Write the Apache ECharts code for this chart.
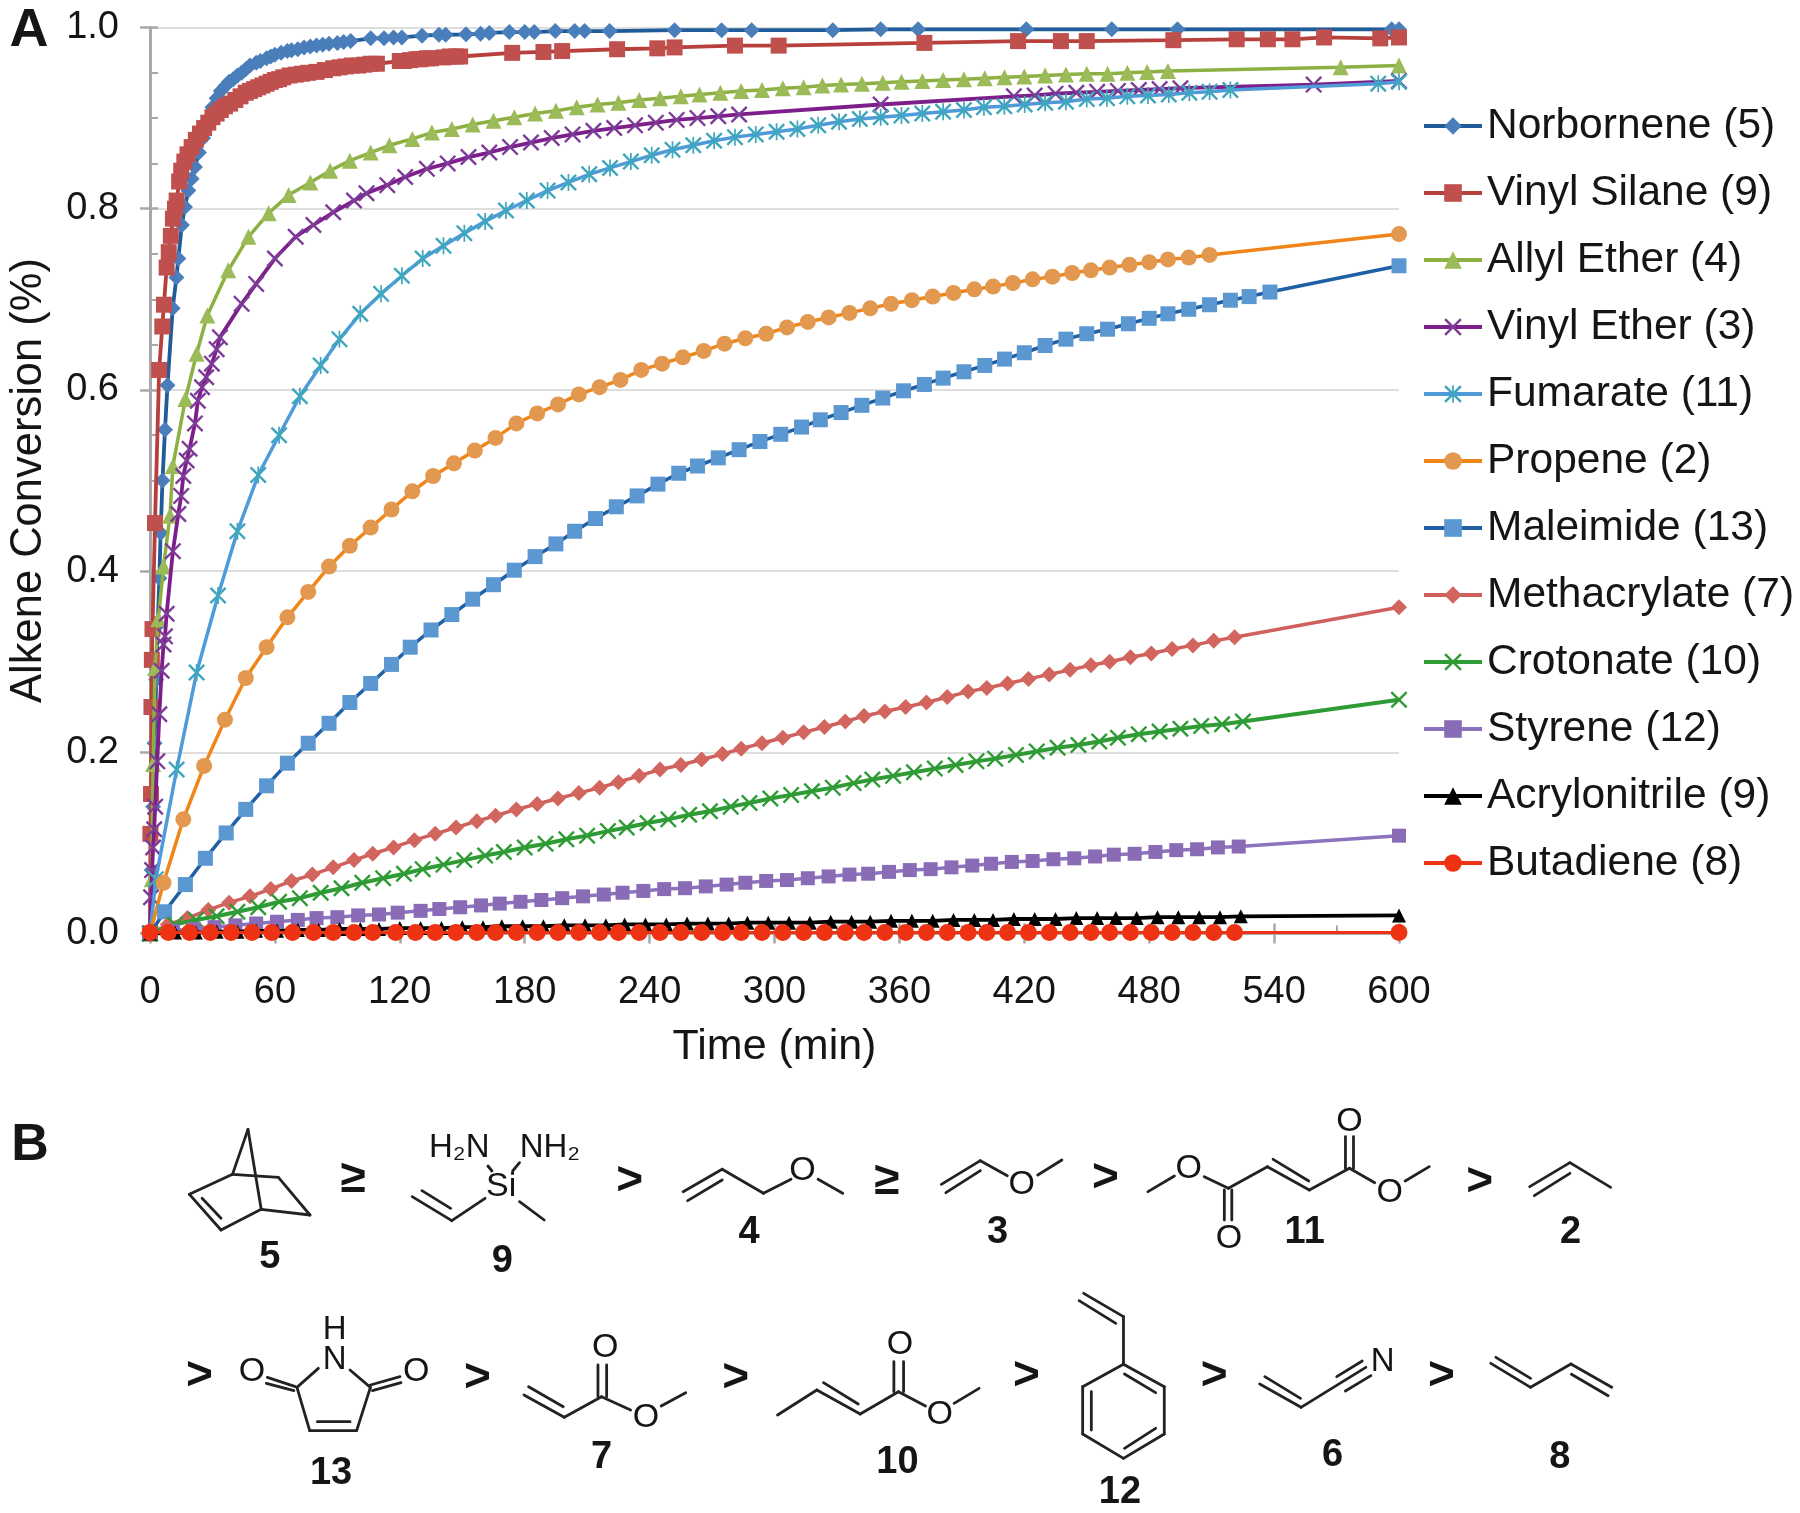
<!DOCTYPE html>
<html><head><meta charset="utf-8">
<script src="https://cdn.jsdelivr.net/npm/echarts@6/dist/echarts.min.js"></script>
<style>html,body{margin:0;padding:0;background:#fff}#c{width:1800px;height:1513px;filter:blur(0.5px)}</style>
</head><body><div id="c"></div>
<script>
// [time (min), conversion] pairs
const norbornene=[[0,0],[.8,.07],[1.5,.14],[2.2,.21],[3,.28],[3.7,.34],[4.5,.392],[5.1,.442],[6,.5],[7.2,.556],[8.4,.605],[10.9,.69],[12.7,.724],[13.6,.745],[15.3,.782],[16.8,.802],[18.4,.82],[20,.833],[21.6,.846],[23.5,.862],[25.5,.878],[27.5,.895],[30,.912],[32,.922],[34,.93],[36,.935],[38,.94],[40,.943],[42,.947],[44,.95],[46,.954],[48,.958],[51,.961],[53,.963],[56,.966],[58,.968],[60,.97],[63,.972],[66,.974],[68,.975],[71,.976],[74,.978],[77,.979],[80,.98],[83,.981],[86,.982],[90,.983],[93,.984],[96.4,.985],[106,.988],[112.4,.988],[117,.989],[121,.989],[130.7,.991],[138.8,.992],[142,.992],[151.8,.9925],[158.8,.993],[163,.994],[172.6,.995],[180,.995],[184.6,.995],[194.7,.996],[204,.996],[208.8,.996],[220.8,.996],[252,.997],[274.6,.997],[289,.997],[328,.997],[351,.998],[369,.998],[421,.998],[462,.998],[493.6,.998],[596.5,.998],[600,.998]];
const vinylSilane=[[0,0],[.2,.11],[.5,.154],[.7,.25],[.9,.302],[1.2,.336],[2.4,.453],[4.4,.622],[5.9,.67],[6.7,.694],[8,.735],[9,.752],[10,.77],[11,.789],[12,.8],[12.8,.809],[14,.83],[15,.842],[16.5,.852],[18,.86],[20,.868],[22,.876],[24,.883],[26,.889],[28,.895],[30,.901],[32,.905],[34,.909],[36,.913],[38.5,.916],[41,.92],[43.5,.924],[46,.928],[48,.93],[50,.932],[52,.934],[54,.936],[56,.938],[58,.94],[60,.942],[62,.943],[64,.945],[67,.947],[70,.948],[73,.949],[76,.95],[80,.951],[84,.953],[88,.955],[91,.956],[94,.957],[97,.958],[100,.958],[103,.959],[106,.96],[109,.96],[120,.963],[122,.963],[125,.964],[128,.965],[130,.965],[133,.966],[135,.966],[141,.967],[144,.968],[147,.968],[149,.968],[174,.972],[189,.973],[198,.974],[224.4,.976],[243.7,.977],[252,.978],[281,.98],[302,.98],[372,.983],[417,.985],[437.6,.985],[450,.985],[491.6,.986],[522,.987],[537,.987],[548.8,.987],[564,.989],[591,.988],[600,.989]];
const allylEther=[[0,0],[.8,.06],[1.5,.187],[2.4,.293],[4,.347],[6.5,.405],[9.6,.461],[11,.516],[17,.59],[22.4,.64],[27.5,.682],[37.6,.732],[47.3,.769],[57,.795],[66.6,.815],[77,.829],[86.5,.842],[96,.853],[106,.862],[115,.87],[126,.877],[135.4,.884],[145,.888],[155,.893],[165,.897],[175,.901],[185,.905],[195,.908],[205,.912],[215,.915],[225,.917],[235,.92],[245,.922],[255,.924],[264,.926],[274,.928],[284,.93],[294,.931],[304,.933],[314,.934],[323,.936],[332,.937],[342,.938],[352,.939],[361,.94],[371,.941],[381,.942],[391,.943],[401,.944],[410.5,.945],[420,.946],[430,.947],[440,.948],[450,.949],[460,.949],[469.5,.95],[479,.951],[489,.952],[572,.956],[600,.958]];
const vinylEther=[[0,0],[.5,.04],[1,.07],[1.5,.095],[2,.115],[2.5,.14],[3.5,.19],[4.5,.242],[5.6,.29],[6.5,.319],[7.2,.328],[8,.353],[11,.422],[13.6,.463],[15,.483],[16,.505],[17.6,.522],[19,.535],[21.6,.563],[23,.588],[25,.603],[27,.614],[29.7,.629],[32,.645],[33.6,.658],[44,.695],[51,.717],[60,.745],[70,.769],[78.5,.782],[88,.796],[98,.809],[104,.817],[114,.826],[122.6,.835],[133,.844],[143,.85],[153,.857],[163,.862],[173,.868],[183,.873],[193,.878],[203,.882],[213,.886],[223,.889],[233,.892],[243,.895],[253,.898],[263,.9],[273,.902],[283,.904],[351,.915],[415,.924],[425,.925],[435,.927],[445,.928],[455,.929],[465,.93],[475,.931],[485,.932],[495,.933],[559,.937],[600,.941]];
const fumarate=[[0,0],[2.8,.06],[12.8,.181],[22.4,.288],[32.7,.373],[42,.444],[52,.506],[62,.55],[72,.593],[82,.627],[91,.656],[101,.684],[111,.706],[121,.726],[131,.745],[141,.759],[151,.773],[161,.786],[171,.798],[181,.809],[191,.82],[201,.829],[211,.838],[221,.845],[231,.852],[241,.859],[251,.865],[261,.87],[271,.875],[281,.879],[291,.882],[301,.885],[311,.888],[321,.892],[331,.896],[341,.899],[351,.901],[361,.903],[371,.905],[381,.907],[391,.909],[400.6,.912],[410.4,.913],[420.2,.915],[430,.917],[440,.918],[450,.921],[459.7,.922],[469.5,.924],[479.4,.925],[489.4,.926],[499.3,.928],[509,.929],[519,.931],[590,.938],[600,.94]];
const propene=[[0,0],[6.5,.056],[16,.126],[26,.185],[36,.236],[46,.282],[56,.316],[66,.349],[76,.377],[86,.405],[96,.428],[106,.448],[116,.468],[126,.488],[136,.505],[146,.519],[156,.533],[166,.547],[176,.563],[186,.574],[196,.584],[206,.595],[216,.603],[226,.611],[236,.622],[246,.629],[256,.636],[266,.643],[276,.651],[286,.657],[296,.662],[306,.669],[316,.675],[326,.68],[336,.685],[346,.69],[356,.695],[366,.699],[376,.703],[386,.707],[396,.711],[405,.714],[414.5,.718],[424,.722],[433.5,.725],[443,.729],[452,.732],[461,.735],[470.5,.738],[480,.741],[489,.744],[499,.746],[509,.749],[600,.772]];
const maleimide=[[0,0],[7,.024],[17,.054],[26.6,.083],[36.6,.111],[46,.137],[56,.163],[66,.188],[76,.21],[86,.232],[96,.255],[106,.276],[116,.297],[125,.316],[135,.335],[145,.352],[155,.369],[165,.385],[175,.401],[185,.416],[195,.43],[204,.444],[214,.458],[224,.471],[234,.483],[244,.496],[254,.508],[263,.516],[273,.525],[283,.534],[293,.543],[303,.551],[313,.559],[322,.567],[332,.575],[342,.583],[352,.591],[362,.599],[372,.606],[381,.613],[391,.62],[401,.627],[410.5,.634],[420,.641],[430,.649],[440,.656],[450,.662],[460,.667],[470,.673],[480,.679],[489,.684],[499,.689],[509,.694],[519,.699],[528,.703],[538,.708],[600,.737]];
const methacrylate=[[0,0],[8.6,.01],[18,.017],[28,.026],[38,.034],[48,.041],[58,.049],[68,.058],[78,.065],[88,.073],[98,.081],[107,.088],[117,.095],[127,.103],[137,.11],[147,.117],[157,.124],[166,.13],[176,.137],[186,.143],[196,.149],[206,.155],[216,.161],[225,.167],[235,.174],[245,.181],[255,.186],[265,.192],[275,.198],[284,.204],[294,.21],[304,.216],[314,.222],[324,.228],[334,.234],[343,.24],[353,.245],[363,.25],[373,.255],[383,.261],[393,.267],[402,.271],[412,.276],[422,.281],[432,.286],[442,.291],[452,.296],[461,.3],[471,.305],[481,.309],[491,.314],[501,.318],[511,.323],[521,.327],[600,.36]];
const crotonate=[[0,0],[12,.01],[22,.015],[32,.019],[42,.024],[52,.029],[62,.035],[72,.039],[82,.045],[92,.05],[102,.056],[112,.061],[122,.066],[131,.071],[141,.076],[151,.081],[161,.086],[170,.09],[180,.095],[190,.099],[200,.104],[210,.108],[220,.113],[229,.117],[239,.122],[249,.126],[259,.131],[269,.135],[279,.14],[288,.144],[298,.149],[308,.153],[318,.157],[328,.161],[338,.166],[347,.17],[357,.174],[367,.178],[377,.182],[387,.186],[397,.19],[406,.193],[416,.197],[426,.201],[436,.205],[446,.208],[456,.212],[465,.216],[475,.22],[485,.223],[495,.226],[505,.229],[515,.231],[525,.234],[600,.258]];
const styrene=[[0,0],[11,.003],[21,.005],[31,.007],[41,.009],[51,.011],[61,.013],[71,.015],[80,.017],[90,.018],[100,.02],[110,.021],[119,.023],[130,.025],[139,.027],[149,.029],[159,.031],[168,.033],[178,.035],[188,.037],[198,.039],[208,.041],[218,.043],[227,.045],[237,.047],[247,.049],[257,.05],[267,.052],[277,.054],[286,.056],[296,.058],[306,.059],[316,.061],[326,.063],[336,.065],[345,.066],[355,.068],[365,.07],[375,.071],[385,.073],[395,.075],[404,.077],[414,.079],[424,.08],[434,.082],[444,.083],[454,.085],[463,.087],[473,.088],[483,.09],[493,.092],[503,.093],[513,.095],[523,.096],[600,.108]];
const acrylonitrile=[[0,0],[12,.001],[22,.001],[32,.002],[42,.002],[51,.003],[61,.003],[71,.004],[81,.004],[91,.005],[101,.005],[110,.005],[120,.006],[130,.006],[140,.006],[150,.007],[160,.007],[169,.008],[179,.008],[189,.008],[199,.009],[209,.009],[219,.009],[228,.01],[238,.01],[248,.01],[258,.011],[268,.011],[278,.011],[287,.012],[297,.012],[307,.012],[317,.012],[327,.013],[337,.013],[346,.013],[356,.014],[366,.014],[376,.014],[386,.015],[396,.015],[405,.015],[415,.016],[425,.016],[435,.016],[445,.017],[455,.017],[464,.017],[474,.017],[484,.018],[494,.018],[504,.018],[514,.018],[524,.019],[600,.02]];
const butadiene=[[0,.001],[8.8,.001],[19,.001],[29,.001],[39,.001],[49,.001],[58.5,.001],[68.5,.001],[78.5,.001],[88,.001],[98,.001],[107,.001],[118,.001],[127.5,.001],[137,.001],[147,.001],[157,.001],[166,.001],[176,.001],[186,.001],[196,.001],[206,.001],[216,.001],[225,.001],[235,.001],[245,.001],[255,.001],[265,.001],[275,.001],[284,.001],[294,.001],[304,.001],[314,.001],[324,.001],[334,.001],[343,.001],[353,.001],[363,.001],[373,.001],[383,.001],[393,.001],[402,.001],[412,.001],[422,.001],[432,.001],[442,.001],[452,.001],[461,.001],[471,.001],[481,.001],[491,.001],[501,.001],[511,.001],[521,.001],[600,.001]];

const X_TICK='path://M0 10L10 0L50 40L90 0L100 10L60 50L100 90L90 100L50 60L10 100L0 90L40 50Z';
const STAR=X_TICK+'M45 0H55V100H45Z';
const FONT='"Liberation Sans", Arial, sans-serif';
const INK='#151515';
const GRAY='#a8a8a8';

const seriesSpec=[
 ['Norbornene (5)',norbornene,'diamond',16,'#1f5c99','#4a7ebb',3.8],
 ['Vinyl Silane (9)',vinylSilane,'rect',16,'#b8403c','#c0504d',3.8],
 ['Allyl Ether (4)',allylEther,'triangle',16,'#8db042','#9bbb59',3.5],
 ['Vinyl Ether (3)',vinylEther,X_TICK,17,'#7d1f8a','#7d3c98',3.8],
 ['Fumarate (11)',fumarate,STAR,17,'#4f9bd8','#3ea6bd',3.5],
 ['Propene (2)',propene,'circle',16,'#f0851a','#e2994f',3.5],
 ['Maleimide (13)',maleimide,'rect',15,'#1f5fa6','#5b97d1',3.5],
 ['Methacrylate (7)',methacrylate,'diamond',16,'#d0605c','#d2665f',3.5],
 ['Crotonate (10)',crotonate,X_TICK,17,'#2e9b35','#2e9b35',4],
 ['Styrene (12)',styrene,'rect',14,'#8d73bd','#8a6cb6',3.5],
 ['Acrylonitrile (9)',acrylonitrile,'triangle',14,'#000000','#000000',3.8],
 ['Butadiene (8)',butadiene,'circle',17,'#ee3314','#ee3314',3]
];

// Panel B structures: bonds and labels in crop coordinates
const molecules=[
 {o:[0,1080],s:[1.742,3],
  bonds:[[432,148,405,283],[432,148,455,388],[405,283,485,292],[485,292,540,405],[540,405,455,388],[405,283,330,343],[330,343,385,450],[385,450,455,388],[352,355,385,415],
   [850,258,857,273],[905,248,893,273],[905,365,948,420],[845,355,787,422],[787,422,718,350],[785,385,735,332],
   [1190,335,1258,268],[1198,362,1258,300],[1258,268,1330,340],[1330,340,1378,298],[1425,298,1468,340]],
  labels:[['H₂N',800,205,33],['NH₂',958,205,33],['Si',873,320,34],['O',1398,272,34]],
  nums:[['5',470,525],['9',875,535],['4',1305,450]],
  signs:[['≥',615,290],['>',1097,295],['≥',1545,295]]},
 {o:[900,1080],s:[1.742,3],
  bonds:[[72,313,140,242],[80,338,140,272],[140,242,187,287],[240,285,282,240],
   [432,335,478,288],[530,290,572,325],[565,330,565,420],[578,330,578,420],[572,325,640,260],[640,260,713,330],[650,238,712,303],[713,330,783,265],[776,265,776,170],[790,265,790,170],[783,265,827,308],[880,303,922,260],
   [1097,320,1167,248],[1105,347,1167,280],[1167,248,1238,322]],
  labels:[['O',212,315,34],['O',503,265,34],['O',573,475,34],['O',783,125,34],['O',853,338,34]],
  nums:[['3',170,450],['11',705,450],['2',1168,450]],
  signs:[['>',358,285],['>',1010,297]]},
 {o:[150,1280],s:[1.96,3],
  bonds:[[330,265,288,322],[392,270,432,322],[230,292,285,320],[228,310,282,332],[490,290,432,315],[492,308,436,332],[288,322,313,452],[313,452,405,452],[405,452,432,322],[328,425,392,425],
   [733,345,812,412],[742,320,810,380],[812,412,885,350],[878,350,878,255],[895,350,895,255],[885,350,942,390],[1002,378,1050,338],
   [1230,405,1307,330],[1307,330,1392,402],[1320,308,1388,372],[1392,402,1467,335],[1458,335,1458,245],[1477,335,1477,245],[1467,335,1520,378]],
  labels:[['H',362,150,33],['N',362,240,33],['O',200,275,34],['O',522,275,34],['O',892,203,34],['O',972,412,34],['O',1470,193,34],['O',1548,405,34]],
  nums:[['13',355,572],['7',885,525],['10',1465,540]],
  signs:[['>',97,280],['>',642,287],['>',1148,287]]},
 {o:[950,1280],s:[1.96,3],
  bonds:[[8,370,57,325],
   [262,40,340,110],[253,62,325,130],[340,110,340,253],[340,253,420,320],[420,320,420,462],[420,462,340,535],[340,535,260,462],[260,462,260,320],[260,320,340,253],[342,282,403,338],[403,445,342,505],[277,335,277,450],
   [607,312,688,382],[617,290,687,355],[688,382,815,262],[758,290,808,243],[775,333,825,287],
   [1060,250,1138,322],[1070,232,1138,295],[1138,322,1217,252],[1217,252,1297,322],[1218,283,1290,347]],
  labels:[['N',848,245,33]],
  nums:[['12',333,630],['6',750,518],['8',1195,525]],
  signs:[['>',150,280],['>',518,280],['>',963,280]]}
];

const graphics=[];
function txt(s,x,y,size,weight){graphics.push({type:'text',silent:true,style:{text:s,x:x,y:y,fontSize:size,fontWeight:weight,fontFamily:FONT,fill:INK,align:'center',verticalAlign:'middle'}});}
molecules.forEach(function(m){
 const px=function(x){return m.o[0]+x/m.s[0]};
 const py=function(y){return m.o[1]+y/m.s[1]};
 m.bonds.forEach(function(b){graphics.push({type:'line',silent:true,shape:{x1:px(b[0]),y1:py(b[1]),x2:px(b[2]),y2:py(b[3])},style:{stroke:'#222',lineWidth:2.8,lineCap:'round'}});});
 m.labels.forEach(function(l){txt(l[0],px(l[1]),py(l[2]),l[3],'normal');});
 m.nums.forEach(function(l){txt(l[0],px(l[1]),py(l[2])+3,38,'bold');});
 m.signs.forEach(function(l){txt(l[0],px(l[1]),py(l[2])+3,46,'bold');});
});
txt('A',29,31,54,'bold');
txt('B',30,1146,52,'bold');

const timeTicks={min:0,max:600,interval:60};
const convTicks={min:0,max:1,interval:.2};
const chart=echarts.init(document.getElementById('c'),null,{renderer:'canvas'});
chart.setOption({
 animation:false,
 backgroundColor:'#fff',
 textStyle:{fontFamily:FONT},
 grid:{left:150,top:27.5,width:1249,height:906,containLabel:false,outerBoundsMode:'none'},
 legend:{orient:'vertical',left:1422,top:104.5,padding:0,itemWidth:58,itemHeight:22,itemGap:24,selectedMode:false,
  lineStyle:{width:4},
  textStyle:{fontSize:42.5,color:INK,fontFamily:FONT,lineHeight:40},
  data:seriesSpec.map(function(s){return s[0]})},
 xAxis:[
  Object.assign({type:'value',name:'Time (min)',nameLocation:'middle',nameGap:92,
   nameTextStyle:{fontSize:43,color:INK,fontFamily:FONT},
   axisLine:{show:true,onZero:false,lineStyle:{color:GRAY,width:3}},
   axisTick:{show:true,length:10,lineStyle:{color:GRAY,width:2.5}},
   axisLabel:{fontSize:38,color:INK,fontFamily:FONT,margin:40,showMinLabel:true,showMaxLabel:true},
   splitLine:{show:false}},timeTicks),
  Object.assign({type:'value',position:'bottom',
   axisLine:{show:false},axisLabel:{show:false},splitLine:{show:false},
   axisTick:{show:true,inside:true,length:10,lineStyle:{color:GRAY,width:2.5}},
   minorTick:{show:true,splitNumber:2,length:8,lineStyle:{color:GRAY,width:2}}},timeTicks)
 ],
 yAxis:[
  Object.assign({type:'value',name:'Alkene Conversion (%)',nameLocation:'middle',nameGap:99,
   nameTextStyle:{fontSize:43.5,color:INK,fontFamily:FONT},
   axisLine:{show:true,onZero:false,lineStyle:{color:GRAY,width:3}},
   axisTick:{show:true,length:10,lineStyle:{color:GRAY,width:2.5}},
   axisLabel:{fontSize:38,color:INK,fontFamily:FONT,margin:31,padding:[8,0,0,0],formatter:function(v){return v.toFixed(1)}},
   splitLine:{show:true,lineStyle:{color:'#dedede',width:2}}},convTicks),
  Object.assign({type:'value',position:'left',
   axisLine:{show:false},axisLabel:{show:false},splitLine:{show:false},
   axisTick:{show:true,inside:true,length:8,lineStyle:{color:GRAY,width:2.5}},
   minorTick:{show:true,splitNumber:4,length:8,lineStyle:{color:GRAY,width:2}}},convTicks)
 ],
 graphic:{elements:graphics},
 series:seriesSpec.map(function(s,i){return {
  type:'line',name:s[0],data:s[1],xAxisIndex:0,yAxisIndex:0,
  symbol:s[2],symbolSize:s[3],showSymbol:true,showAllSymbol:true,clip:false,
  lineStyle:{color:s[4],width:s[6]},itemStyle:{color:s[5],borderWidth:0},
  emphasis:{disabled:true},z:2+i*.01,zlevel:0
 }})
});
</script></body></html>
